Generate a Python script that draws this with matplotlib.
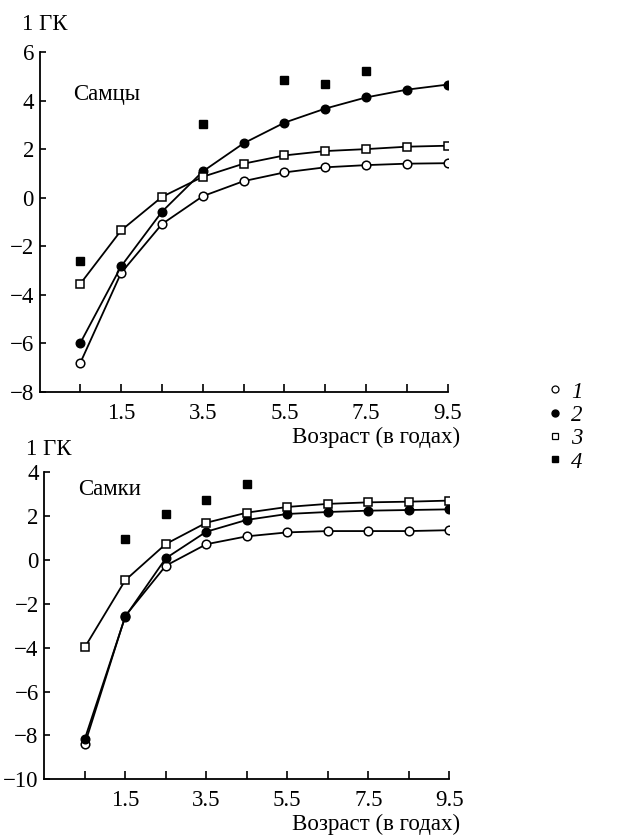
import matplotlib
matplotlib.use("Agg")
import matplotlib.pyplot as plt
from matplotlib.lines import Line2D

plt.rcParams['font.family'] = ['Liberation Serif', 'DejaVu Serif']

ages = [0.5, 1.5, 2.5, 3.5, 4.5, 5.5, 6.5, 7.5, 8.5, 9.5]
xtick_labels = ['', '1.5', '', '3.5', '', '5.5', '', '7.5', '', '9.5']

# Males (Самцы)
m1 = [-6.80, -3.09, -1.08, 0.07, 0.69, 1.05, 1.26, 1.35, 1.41, 1.43]
m2 = [-5.98, -2.82, -0.57, 1.09, 2.25, 3.10, 3.68, 4.14, 4.46, 4.67]
m3 = [-3.54, -1.34, 0.04, 0.87, 1.41, 1.75, 1.93, 2.01, 2.11, 2.15]
m4_x = [0.5, 3.5, 5.5, 6.5, 7.5]
m4 = [-2.62, 3.04, 4.86, 4.68, 5.22]

# Females (Самки)
f1 = [-8.40, -2.55, -0.26, 0.72, 1.08, 1.26, 1.32, 1.32, 1.32, 1.36]
f2 = [-8.16, -2.58, 0.08, 1.29, 1.83, 2.10, 2.19, 2.25, 2.28, 2.31]
f3 = [-3.98, -0.92, 0.73, 1.70, 2.16, 2.42, 2.56, 2.63, 2.66, 2.71]
f4_x = [1.5, 2.5, 3.5, 4.5]
f4 = [0.94, 2.12, 2.74, 3.45]

legend_labels = ['1', '2', '3', '4']

W, H = 641, 838
fig = plt.figure(figsize=(W / 100, H / 100), dpi=100)

def fx(px):
    return px / W

def fy(py):
    return 1 - py / H

ax1 = fig.add_axes([fx(39.5), fy(392), fx(447.7 - 39.5), (392 - 52.3) / H])
ax2 = fig.add_axes([fx(44.3), fy(779.3), fx(449.3 - 44.3), (779.3 - 472.3) / H])

ms = 6.2
lw = 1.3
FS = 16.5

def draw(ax, s1, s2, s3, s4x, s4, ylim, yticks, label, lab_xy):
    ax.plot(ages, s1, color='black', lw=lw, marker='o', ms=ms, mfc='white', mec='black', mew=1.1, zorder=3)
    ax.plot(ages, s2, color='black', lw=lw, marker='o', ms=ms, mfc='black', mec='black', zorder=3)
    ax.plot(ages, s3, color='black', lw=lw, marker='s', ms=ms, mfc='white', mec='black', mew=1.1, zorder=3)
    ax.plot(s4x, s4, ls='none', marker='s', ms=ms, mfc='black', mec='black', zorder=3)
    ax.set_xlim(-0.5, 9.5)
    ax.set_ylim(*ylim)
    ax.set_xticks(ages)
    ax.set_xticklabels(xtick_labels)
    ax.set_yticks(yticks)
    ax.set_yticklabels([('\u2212' + str(abs(v))) if v < 0 else str(v) for v in yticks])
    for s in ['top', 'right']:
        ax.spines[s].set_visible(False)
    for s in ['left', 'bottom']:
        ax.spines[s].set_linewidth(1.3)
    ax.tick_params(axis='x', direction='in', length=6, width=1.2, pad=8, labelsize=FS)
    ax.tick_params(axis='y', direction='in', length=4, width=1.2, pad=4, labelsize=FS)
    ax.patch.set_alpha(0)
    ax.text(lab_xy[0], lab_xy[1], label, fontsize=FS, ha='left', va='center')

draw(ax1, m1, m2, m3, m4_x, m4, (-8, 6), [-8, -6, -4, -2, 0, 2, 4, 6], 'Самцы', (0.33, 4.25))
draw(ax2, f1, f2, f3, f4_x, f4, (-10, 4), [-10, -8, -6, -4, -2, 0, 2, 4], 'Самки', (0.33, 3.2))

fig.text(fx(22), fy(25), '1 ГК', fontsize=FS, ha='left', va='center')
fig.text(fx(460), fy(437), 'Возраст (в годах)', fontsize=FS, ha='right', va='center')
fig.text(fx(26), fy(449), '1 ГК', fontsize=FS, ha='left', va='center')
fig.text(fx(460), fy(824), 'Возраст (в годах)', fontsize=FS, ha='right', va='center')

handles = [
    Line2D([], [], ls='none', marker='o', ms=5, mfc='white', mec='black', mew=0.9),
    Line2D([], [], ls='none', marker='o', ms=5, mfc='black', mec='black'),
    Line2D([], [], ls='none', marker='s', ms=5, mfc='white', mec='black', mew=0.9),
    Line2D([], [], ls='none', marker='s', ms=5, mfc='black', mec='black'),
]
fig.legend(handles, legend_labels, loc='center left', bbox_to_anchor=(fx(548), fy(427)),
           frameon=False, handlelength=0.6, handletextpad=0.4, labelspacing=0.1,
           borderaxespad=0, borderpad=0,
           prop={'family': 'Liberation Serif', 'style': 'italic', 'size': FS})

fig.savefig('out.png', dpi=100)
